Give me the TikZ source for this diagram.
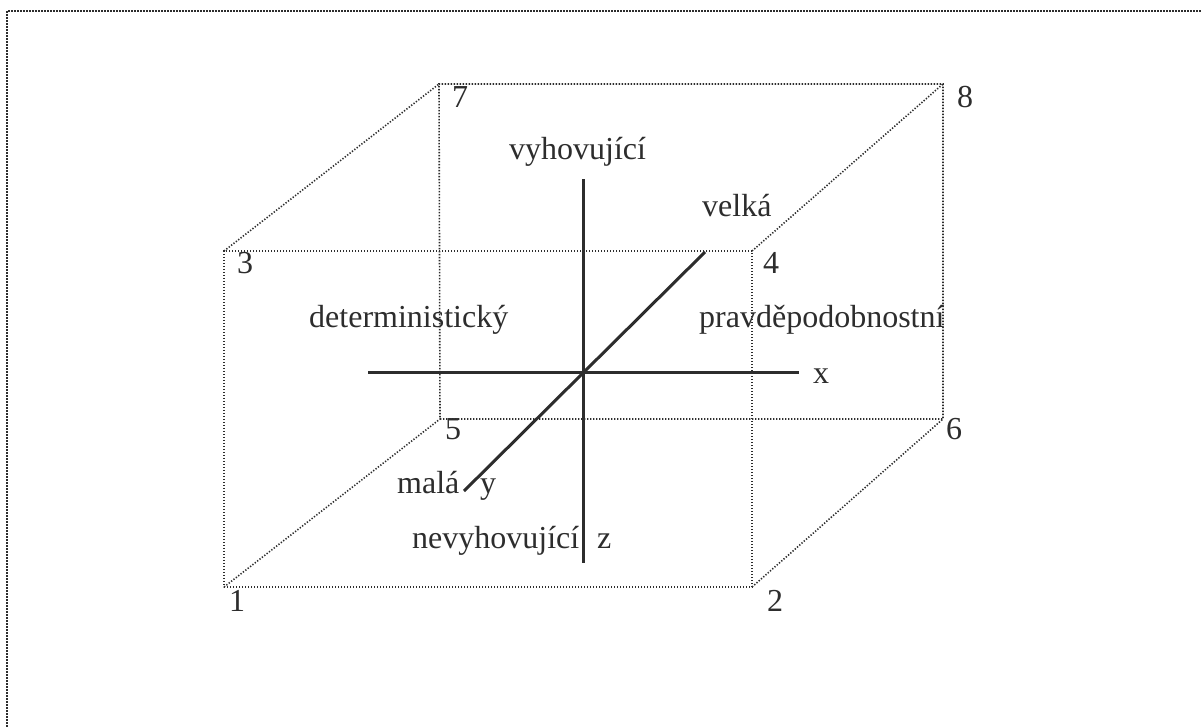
\documentclass[tikz,border=0pt]{standalone}
\usepackage{fontspec}
\setmainfont{Liberation Serif}
\definecolor{ink}{RGB}{45,45,45}
\begin{document}
\begin{tikzpicture}[x=1pt,y=-1pt,
  lbl/.style={anchor=base west,inner sep=0pt,text=ink,font=\fontsize{32}{38}\selectfont},
  hid/.style={draw=ink,line width=1.6pt,dash pattern=on 1.3pt off 1.7pt},
  axis/.style={draw=ink,line width=3pt},
  frame/.style={draw=ink,line width=2.5pt,dash pattern=on 1.6pt off 1.4pt}]
\useasboundingbox (0,0) rectangle (1201,726);
\clip (0,0) rectangle (1201,726);
% outer frame
\coordinate (fbl) at (7,760);
\coordinate (ftl) at (7,11);
\coordinate (ftr) at (1240,11);
\draw[frame] (fbl) -- (ftl) -- (ftr);
% cube corners
\coordinate (c1) at (224,587);
\coordinate (c2) at (752,587);
\coordinate (c3) at (224,251);
\coordinate (c4) at (752,251);
\coordinate (c5) at (440,419);
\coordinate (c6) at (943,419);
\coordinate (c7) at (439,84);
\coordinate (c8) at (943,84);
\draw[hid] (c1) -- (c2) -- (c4) -- (c3) -- cycle;
\draw[hid] (c5) -- (c6) -- (c8) -- (c7) -- cycle;
\draw[hid] (c1) -- (c5);
\draw[hid] (c2) -- (c6);
\draw[hid] (c3) -- (c7);
\draw[hid] (c4) -- (c8);
% axes
\coordinate (zt) at (583,179);
\coordinate (zb) at (583,563);
\coordinate (xl) at (368,372);
\coordinate (xr) at (799,372);
\coordinate (yb) at (464,491);
\coordinate (yt) at (705,252);
\draw[axis] (zt) -- (zb);
\draw[axis] (xl) -- (xr);
\draw[axis] (yb) -- (yt);
% labels
\node[lbl] (n1) at (229,611) {1};
\node[lbl] (n2) at (767,611) {2};
\node[lbl] (n3) at (237,273) {3};
\node[lbl] (n4) at (763,273) {4};
\node[lbl] (n5) at (445,439) {5};
\node[lbl] (n6) at (946,439) {6};
\node[lbl] (n7) at (452,107) {7};
\node[lbl] (n8) at (957,107) {8};
\node[lbl] (vyh) at (509,159) {vyhovující};
\node[lbl] (vel) at (702,216) {velká};
\node[lbl] (det) at (309,327) {deterministický};
\node[lbl] (pra) at (699,327) {pravděpodobnostní};
\node[lbl] (lx) at (813,383) {x};
\node[lbl] (mal) at (397,493) {malá};
\node[lbl] (ly) at (480,493) {y};
\node[lbl] (nev) at (412,548) {nevyhovující};
\node[lbl] (lz) at (597,548) {z};
\end{tikzpicture}
\end{document}
